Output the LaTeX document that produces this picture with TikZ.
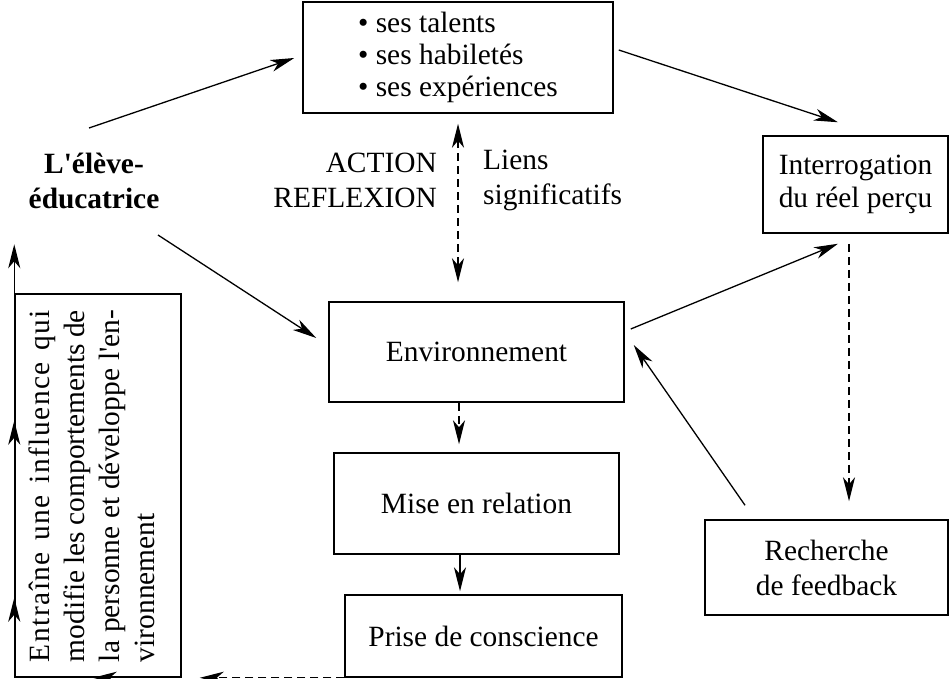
\documentclass[tikz,border=0pt]{standalone}
\usepackage{fontspec}
\setmainfont{Liberation Serif}
\usetikzlibrary{arrows.meta}
\begin{document}
\begin{tikzpicture}[x=1pt,y=-1pt,
  txt/.style={font=\fontsize{29.4}{35}\selectfont,inner sep=0pt},
  box/.style={txt,draw,line width=1.5pt,align=center},
  arr/.style={line width=1.3pt,-{Stealth[length=24pt,width=12pt,inset=7pt]}},
  darr/.style={line width=1.3pt,{Stealth[length=24pt,width=12pt,inset=7pt]}-{Stealth[length=24pt,width=12pt,inset=7pt]}},
  dsh/.style={dash pattern=on 8pt off 5pt},
  seg/.style={line width=1.3pt}
 ]
\useasboundingbox (0,0) rectangle (949,679);

% boxes
\node[box,minimum width=310pt,minimum height=111pt,align=left,font=\fontsize{29.4}{32}\selectfont] (top) at (458,57.5)
  {\textbullet\ ses talents\\ \textbullet\ ses habiletés\\ \textbullet\ ses expériences};
\node[box,minimum width=185pt,minimum height=97pt,font=\fontsize{29.4}{33.5}\selectfont] (inter) at (855.5,184.5)
  {Interrogation\\ du réel perçu};
\node[box,minimum width=295pt,minimum height=100pt] (env) at (476.5,352) {Environnement};
\node[box,minimum width=285pt,minimum height=101pt] (mise) at (476.5,503.5) {Mise en relation};
\node[box,minimum width=277pt,minimum height=82pt] (prise) at (483.5,636) {Prise de conscience};
\node[box,minimum width=243pt,minimum height=95pt] (rech) at (826.5,567.5) {Recherche\\ de feedback};
\node[draw,line width=1.5pt,minimum width=166pt,minimum height=383pt,inner sep=0pt] (infl) at (98,485.5) {};
\node[txt,rotate=90,text width=352pt,align=justify] (infltext) at (92,486)
  {{\addfontfeature{LetterSpace=5}Entraîne une influence qui}\linebreak modifie les comportements de\linebreak la personne et développe l\textquotesingle en-\linebreak vironnement};

% free labels
\node[txt,align=center,font=\fontsize{29.4}{35}\selectfont\bfseries] (eleve) at (94,180.5) {L\textquotesingle élève-\\ éducatrice};
\node[txt,align=right,anchor=east] (action) at (437,180.5) {ACTION\\ REFLEXION};
\node[txt,align=left,anchor=west] (liens) at (483,180.5) {Liens\\ significatifs};

% connectors
\draw[arr] ([shift={(-5,-52.5)}]eleve.center) -- ([shift={(-8,0.5)}]top.west);
\draw[arr] ([shift={(64,54.5)}]eleve.center) -- ([shift={(-12,-14)}]env.west);
\draw[arr] ([shift={(5,-7.5)}]top.east) -- ([shift={(-17.5,-13)}]inter.north);
\draw[arr] ([shift={(6,-23)}]env.east) -- ([shift={(-17.5,10)}]inter.south);
\draw[arr] ([shift={(-81.5,-14)}]rech.north) -- ([shift={(9,-7)}]env.east);
\draw[arr,dsh] ([shift={(-6.5,10)}]inter.south) -- ([shift={(22.5,-18)}]rech.north);
\draw[darr,dsh] ([shift={(0,10)}]top.south) -- ([shift={(-18.5,-19)}]env.north);
\draw[arr,dsh] ([shift={(-17.5,0)}]env.south) -- ([shift={(-17.5,-8)}]mise.north);
\draw[arr] ([shift={(-16.5,0)}]mise.south) -- ([shift={(-23.5,-3)}]prise.north);
\draw[arr,dsh] (prise.south west) -- ([shift={(18,0)}]infl.south east);
\draw[arr] (infl.south east) -- ([shift={(-89,0)}]infl.south east);
\draw[seg] (infl.south east) -- (infl.south west);
\draw[arr] (infl.south west) -- ([shift={(0,-80)}]infl.south west);
\draw[arr] ([shift={(0,-80)}]infl.south west) -- ([shift={(0,-257)}]infl.south west);
\coordinate (up) at ([shift={(0,-49)}]infl.north west);
\draw[arr] ([shift={(0,-257)}]infl.south west) -- (up);
\end{tikzpicture}
\end{document}
